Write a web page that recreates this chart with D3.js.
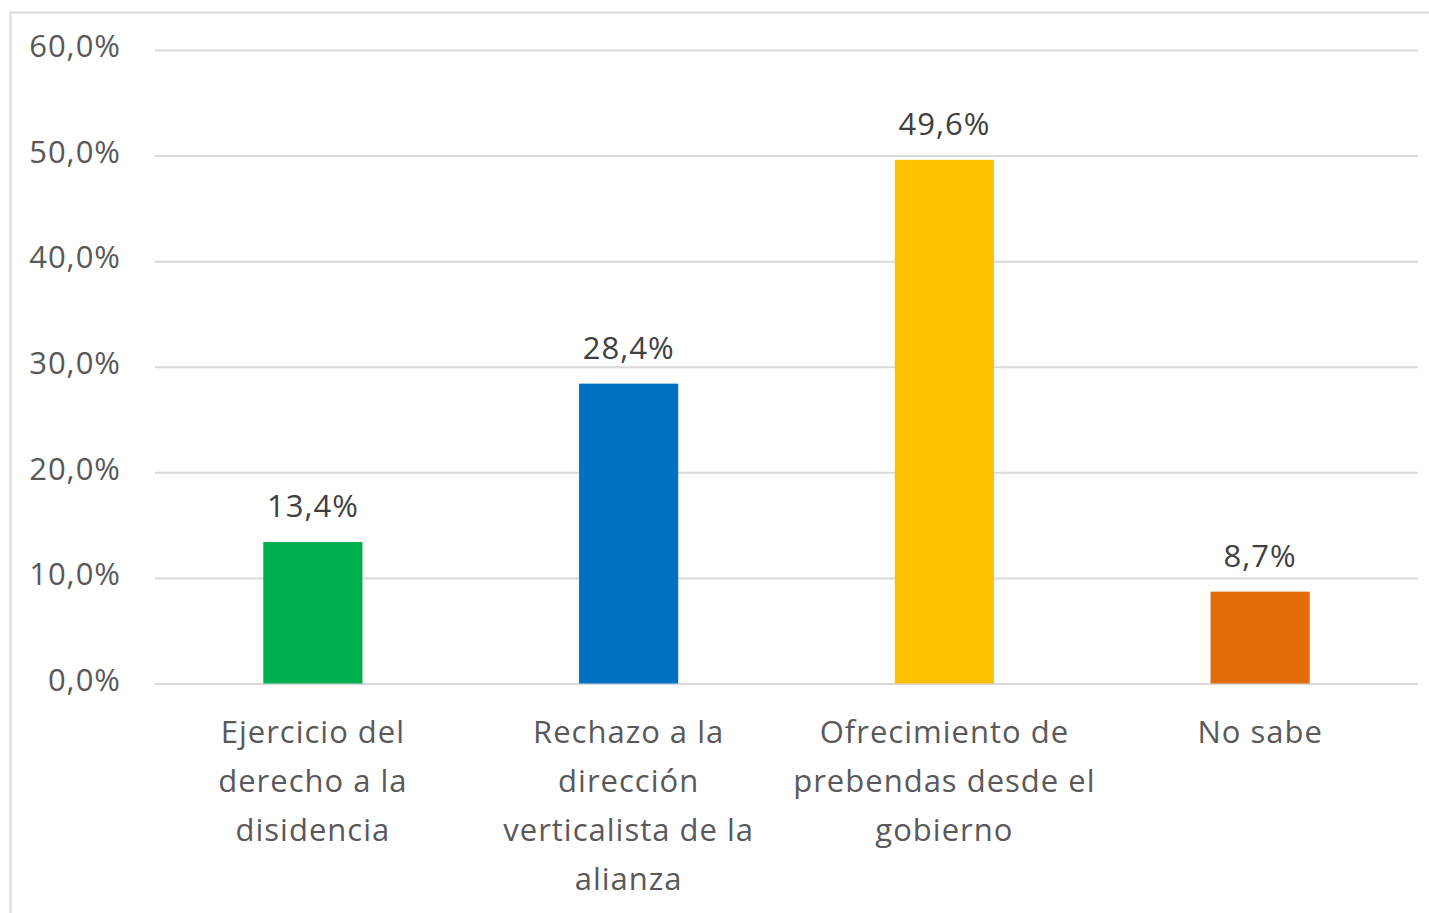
<!DOCTYPE html>
<html>
<head>
<meta charset="utf-8">
<script src="https://cdn.jsdelivr.net/npm/d3@7"></script>
<style>
  body { margin: 0; background: #fff; }
  text { font-family: "Open Sans", sans-serif; }
</style>
</head>
<body>
<script>
  // chart data
  var categories = [
    ['Ejercicio del', 'derecho a la', 'disidencia'],
    ['Rechazo a la', 'dirección', 'verticalista de la', 'alianza'],
    ['Ofrecimiento de', 'prebendas desde el', 'gobierno'],
    ['No sabe']
  ];
  var values = [13.4, 28.4, 49.6, 8.7];
  var barColors = ['#00b050', '#0070c0', '#ffc000', '#e36c0a'];
  var yTicks = [0, 10, 20, 30, 40, 50, 60];

  var W = 1429, H = 913,
      plotL = 155, plotR = 1418, plotT = 50, plotB = 683.5;

  var svg = d3.select('body')
    .append('svg')
    .attr('width', W)
    .attr('height', H);

  // outer chart frame
  svg.append('rect')
    .attr('x', 10.5).attr('y', 12.5)
    .attr('width', W).attr('height', H)
    .attr('fill', 'none')
    .attr('stroke', '#d9d9d9')
    .attr('stroke-width', 2);

  var x = d3.scaleBand()
    .domain(d3.range(values.length))
    .range([plotL, plotR])
    .paddingInner(0.686)
    .paddingOuter(0.343);

  var y = d3.scaleLinear()
    .domain([0, 60])
    .range([plotB, plotT]);

  var fmt = function (v) { return v.toFixed(1).replace('.', ','); };

  // gridlines + tick labels
  var yAxis = svg.append('g')
    .attr('transform', 'translate(' + plotL + ',0)')
    .call(d3.axisLeft(y).tickValues(yTicks)
      .tickSize(-(plotR - plotL)).tickPadding(34)
      .tickFormat(function (d) { return fmt(d) + '%'; }));
  yAxis.select('.domain').remove();
  yAxis.selectAll('line').attr('stroke', '#d9d9d9').attr('stroke-width', 2);
  yAxis.selectAll('text')
    .attr('fill', '#595959')
    .attr('font-size', 31)
    .attr('font-family', '"Open Sans", sans-serif')
    .attr('dy', '0.22em')
    .attr('letter-spacing', 1);

  // bars
  svg.append('g').selectAll('rect')
    .data(values)
    .enter()
    .append('rect')
    .attr('x', function (d, i) { return x(i); })
    .attr('y', function (d) { return y(d); })
    .attr('width', x.bandwidth())
    .attr('height', function (d) { return y(0) - y(d); })
    .attr('fill', function (d, i) { return barColors[i]; });

  // value labels
  svg.append('g').selectAll('text')
    .data(values)
    .enter()
    .append('text')
    .attr('x', function (d, i) { return x(i) + x.bandwidth() / 2; })
    .attr('y', function (d) { return y(d) - 25; })
    .attr('text-anchor', 'middle')
    .attr('font-size', 31)
    .attr('letter-spacing', 1)
    .attr('fill', '#404040')
    .text(function (d) { return fmt(d) + '%'; });

  // category labels
  var cat = svg.append('g').selectAll('text')
    .data(categories)
    .enter()
    .append('text')
    .attr('text-anchor', 'middle')
    .attr('font-size', 31)
    .attr('letter-spacing', 1)
    .attr('fill', '#595959');
  cat.each(function (lines, i) {
    var cx = x(i) + x.bandwidth() / 2;
    d3.select(this).selectAll('tspan')
      .data(lines)
      .enter()
      .append('tspan')
      .attr('x', cx)
      .attr('y', function (d, j) { return 743 + j * 49; })
      .text(function (d) { return d; });
  });
</script>
</body>
</html>
